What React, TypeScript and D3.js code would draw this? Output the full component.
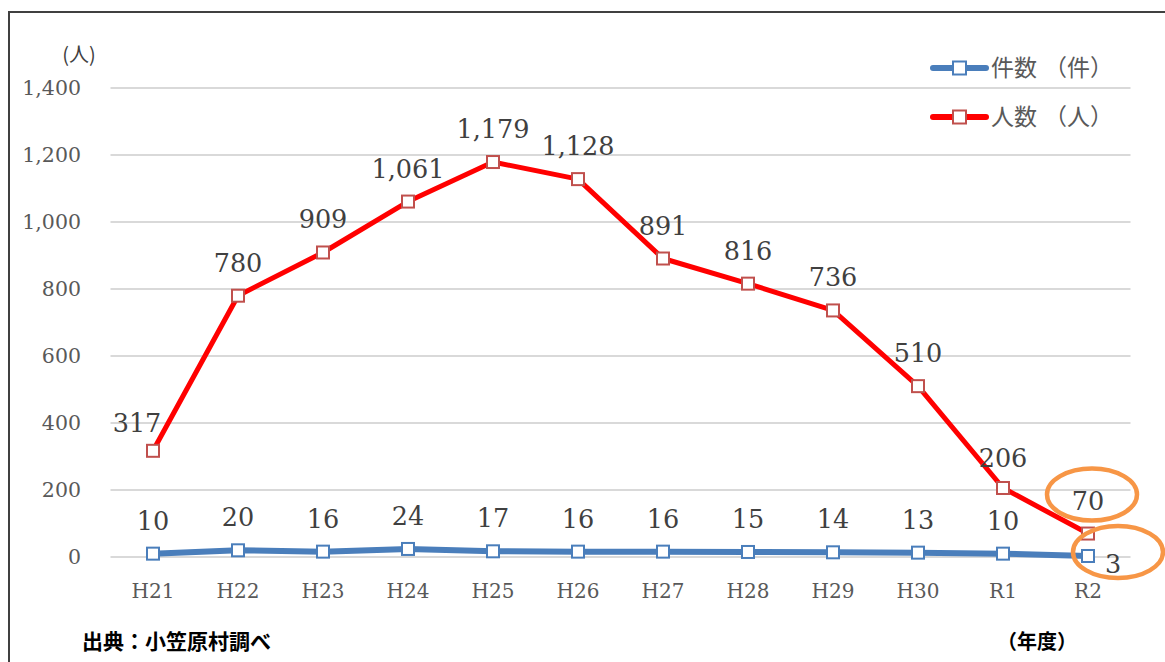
import { useRef, useEffect } from "react";
import * as d3 from "d3";

const categories = ["H21", "H22", "H23", "H24", "H25", "H26", "H27", "H28", "H29", "H30", "R1", "R2"];
const caseCounts = [10, 20, 16, 24, 17, 16, 16, 15, 14, 13, 10, 3];
const peopleCounts = [317, 780, 909, 1061, 1179, 1128, 891, 816, 736, 510, 206, 70];
const yTicks = [0, 200, 400, 600, 800, 1000, 1200, 1400];
const legendNames = ["件数", "人数"];
const legendUnits = ["（件）", "（人）"];

const App = () => {
  const container = useRef<SVGSVGElement | null>(null);

  const width = 1165,
    height = 662;
  const margin = { top: 88, right: 35, bottom: 105, left: 110.5 };

  useEffect(() => {
    const svg = d3.select(container.current);
    svg.selectAll("*").remove();

    const x = d3
      .scaleBand()
      .domain(categories)
      .range([margin.left, margin.left + 85 * categories.length]);
    const y = d3.scaleLinear().domain([0, 1400]).range([height - margin.bottom, margin.top]);
    const cx = (c) => x(c) + x.bandwidth() / 2;

    const serif = "'DejaVu Serif', serif";
    const cjk = "'Noto Sans CJK JP', sans-serif";

    // frame
    svg
      .append("rect")
      .attr("x", 9)
      .attr("y", 12)
      .attr("width", 1200)
      .attr("height", 700)
      .attr("fill", "#fff")
      .attr("stroke", "#404040")
      .attr("stroke-width", 2);

    // gridlines
    svg
      .append("g")
      .selectAll("line")
      .data(yTicks)
      .enter()
      .append("line")
      .attr("x1", x.range()[0])
      .attr("x2", x.range()[1])
      .attr("y1", (d) => y(d))
      .attr("y2", (d) => y(d))
      .attr("stroke", "#d9d9d9")
      .attr("stroke-width", 2);

    // y axis labels
    svg
      .append("g")
      .selectAll("text")
      .data(yTicks)
      .enter()
      .append("text")
      .attr("x", 81)
      .attr("y", (d) => y(d))
      .attr("dy", "0.35em")
      .attr("text-anchor", "end")
      .attr("font-family", serif)
      .attr("font-size", 20.5)
      .attr("fill", "#595959")
      .text((d) => d3.format(",")(d));

    svg
      .append("text")
      .attr("x", 79)
      .attr("y", 62)
      .attr("text-anchor", "middle")
      .attr("font-family", cjk)
      .attr("font-size", 20)
      .attr("fill", "#404040")
      .text("(人)");

    // x axis labels
    svg
      .append("g")
      .selectAll("text")
      .data(categories)
      .enter()
      .append("text")
      .attr("x", (d) => cx(d))
      .attr("y", 598)
      .attr("text-anchor", "middle")
      .attr("font-family", serif)
      .attr("font-size", 20)
      .attr("fill", "#595959")
      .text((d) => d);

    const series = [
      { values: caseCounts, line: "#4a7ebb", marker: "#4a7ebb", width: 6 },
      { values: peopleCounts, line: "#ff0000", marker: "#c0504d", width: 5 },
    ];

    series.forEach((s) => {
      const pts = categories.map((c, i) => [cx(c), y(s.values[i])] as [number, number]);
      svg
        .append("path")
        .attr("d", d3.line()(pts))
        .attr("fill", "none")
        .attr("stroke", s.line)
        .attr("stroke-width", s.width)
        .attr("stroke-linejoin", "round");
      svg
        .append("g")
        .selectAll("rect")
        .data(pts)
        .enter()
        .append("rect")
        .attr("x", (d) => d[0] - 6)
        .attr("y", (d) => d[1] - 6)
        .attr("width", 12)
        .attr("height", 12)
        .attr("fill", "#fff")
        .attr("stroke", s.marker)
        .attr("stroke-width", 2);
    });

    // data labels
    const labelText = (vals, offsets) =>
      svg
        .append("g")
        .selectAll("text")
        .data(vals)
        .enter()
        .append("text")
        .attr("x", (d, i) => cx(categories[i]) + offsets(i)[0])
        .attr("y", (d, i) => y(d) + offsets(i)[1])
        .attr("text-anchor", (d, i) => (offsets(i)[2] ? "start" : "middle"))
        .attr("font-family", serif)
        .attr("font-size", 25.5)
        .attr("fill", "#404040")
        .text((d) => d3.format(",")(d));

    labelText(peopleCounts, (i) => (i === 0 ? [-16, -19, 0] : i === 10 ? [0, -21, 0] : [0, -24, 0]));
    labelText(caseCounts, (i) => (i === 11 ? [17, 17, 1] : [0, -24, 0]));

    // highlight ellipses
    svg
      .append("ellipse")
      .attr("cx", cx("R2") + 4)
      .attr("cy", y(peopleCounts[11]) - 39)
      .attr("rx", 45)
      .attr("ry", 26)
      .attr("fill", "none")
      .attr("stroke", "#f79646")
      .attr("stroke-width", 4.5);
    svg
      .append("ellipse")
      .attr("cx", cx("R2") + 30)
      .attr("cy", y(caseCounts[11]) - 4)
      .attr("rx", 45)
      .attr("ry", 26)
      .attr("fill", "none")
      .attr("stroke", "#f79646")
      .attr("stroke-width", 4.5);

    // legend
    const legend = svg.append("g");
    series.forEach((s, i) => {
      const ly = 68 + i * 49;
      legend
        .append("line")
        .attr("x1", 933)
        .attr("x2", 986)
        .attr("y1", ly)
        .attr("y2", ly)
        .attr("stroke", s.line)
        .attr("stroke-width", 6)
        .attr("stroke-linecap", "round");
      legend
        .append("rect")
        .attr("x", 953)
        .attr("y", ly - 6.5)
        .attr("width", 13)
        .attr("height", 13)
        .attr("fill", "#fff")
        .attr("stroke", s.marker)
        .attr("stroke-width", 2);
      legend
        .append("text")
        .attr("x", 991)
        .attr("y", ly)
        .attr("dy", "0.36em")
        .attr("font-family", cjk)
        .attr("font-size", 23)
        .attr("fill", "#595959")
        .text(legendNames[i]);
      legend
        .append("text")
        .attr("x", 1044)
        .attr("y", ly)
        .attr("dy", "0.36em")
        .attr("font-family", cjk)
        .attr("font-size", 23)
        .attr("fill", "#595959")
        .text(legendUnits[i]);
    });

    // source and unit notes
    svg
      .append("text")
      .attr("x", 82)
      .attr("y", 649)
      .attr("font-family", cjk)
      .attr("font-weight", "bold")
      .attr("font-size", 21)
      .attr("fill", "#000")
      .text("出典：小笠原村調べ");
    svg
      .append("text")
      .attr("x", 997)
      .attr("y", 649)
      .attr("font-family", cjk)
      .attr("font-weight", "bold")
      .attr("font-size", 20)
      .attr("fill", "#000")
      .text("（年度）");
  }, []);

  return (
    <svg
      ref={container}
      width={width}
      height={height}
      style={{ position: "fixed", left: 0, top: 0, display: "block", background: "#fff" }}
    />
  );
};

export default App;
